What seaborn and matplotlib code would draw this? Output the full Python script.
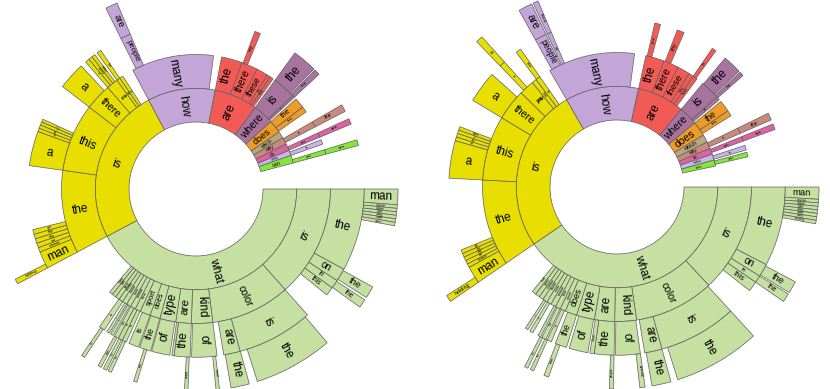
import numpy as np
import matplotlib
matplotlib.use("Agg")
import matplotlib.pyplot as plt
import seaborn as sns

# Distribution of questions by their first four words.
# Left: real images, right: abstract scenes.
# Arc spans are shares of all questions expressed in degrees (360 = all).
# "" marks words whose contribution is too small to show (left white).

# ---------------- left sunburst ----------------
L1_words = ["what", "is", "how", "are", "where", "does", "which", "why", "do", "who", "can", ""]
L1_span = [152, 90, 39, 25, 12, 7.5, 4, 4, 4, 3, 4.5, 15]

L2_words = ["is", "color", "kind", "are", "type", "does", "sport",
            "time", "animal", "room", "brand", "number", "game", "food", "shape", "",
            "the", "this", "there", "it", "that", "he", "",
            "many", "",
            "the", "there", "these", "they", "those", "",
            "is", "are", "",
            "the", "this", "",
            "is", "", "you", "", "is", "", "you", ""]
L2_span = [48.5, 34.3, 9.2, 6.7, 6.9, 4.4, 4.5,
           2.4, 2.2, 2.0, 2.0, 1.8, 1.8, 1.7, 1.6, 22,
           36, 29.5, 11.5, 5, 1.5, 1.5, 5,
           35.5, 3.5,
           9, 7, 5, 1.5, 1.5, 1,
           10, 1, 1,
           4.5, 2.5, 5,
           2.5, 2.8, 2, 1.2, 2, 2.5, 2, 15]

L3_words = ["the", "on", "in", "this", "",
            "is", "are", "", "of", "", "the", "these", "", "of", "", "the", "", "is", "",
            "is", "is", "the", "", "of", "", "is", "", "is", "",
            "man", "woman", "cat", "dog", "boy", "girl", "",
            "a", "an", "the", "in", "photo", "",
            "a", "", "a", "sunny", "raining", "", "the", "",
            "people", "", "any", "",
            "the", "", "this", "",
            "the", "", "see", "", "see", ""]
L3_span = [28.5, 4.5, 3, 3, 9.5,
           26.3, 5.7, 2.3, 8.7, 0.5, 5.5, 0.8, 0.7, 6.3, 0.3, 4, 0.4, 3.5, 1,
           1.5, 1.5, 1.5, 0.5, 1, 0.5, 1, 1, 2, 27,
           6, 1.6, 1.6, 1.6, 1.6, 1.6, 22,
           12, 1.2, 1.2, 1.1, 1, 13,
           9.5, 2, 1.5, 1.3, 1.2, 1, 1.5, 8,
           3.5, 43.5, 2, 13.5,
           8.5, 0.5, 2, 13,
           2.5, 2.8, 2, 5.7, 2, 15]

L4_words = ["man", "woman", "person", "color", "doing", "made", "name", "",
            "the", "", "the", "", "the", "", "the", "",
            "animal", "", "people", "", "man", "", "the", "", "the", "", "man", "", "the", "",
            "holding", "", "are", ""]
L4_span = [4.5, 1, 1, 1, 1, 1, 1, 18.5,
           3.5, 0.8, 2.5, 13.7, 22.8, 2.4, 5.3, 3.3,
           1, 8, 1, 13.7, 1, 6.8, 1, 0.5, 1, 0.7, 1, 4.5, 1, 27.5,
           1.5, 90, 3.5, 113]

# ---------------- right sunburst ----------------
R1_words = ["what", "is", "how", "are", "where", "does", "which", "why", "do", "who", "can", ""]
R1_span = [145.5, 94.5, 42.4, 27.2, 10.9, 8.5, 4.5, 4, 3.5, 3.5, 3.5, 12]

R2_words = ["is", "color", "kind", "are", "type", "does",
            "sport", "time", "animal", "room", "brand", "number", "game", "food", "",
            "the", "this", "there", "it", "that", "he", "",
            "many", "",
            "the", "there", "these", "they", "those", "",
            "is", "are", "",
            "the", "this", "",
            "is", "", "you", "", "is", "", "you", ""]
R2_span = [47, 34.6, 9.4, 8.7, 7.8, 5.1,
           2.4, 2.2, 2.2, 2.0, 2.0, 1.9, 1.9, 1.8, 16.5,
           37.5, 28, 13.5, 6.5, 2, 2, 5,
           37.5, 4.9,
           8.1, 6.5, 5.5, 2, 2, 3.1,
           8.4, 1.5, 1,
           5, 2.5, 6,
           2.5, 1.5, 2, 2, 2, 1, 2, 13]

R3_words = ["the", "on", "in", "this", "",
            "is", "are", "", "of", "", "the", "these", "", "of", "", "the", "",
            "is", "", "the", "", "is", "", "of", "", "is", "",
            "man", "woman", "cat", "dog", "boy", "girl", "",
            "a", "an", "the", "in", "photo", "",
            "a", "", "a", "", "the", "",
            "people", "", "are", "",
            "you", "", "any", "", "the", "",
            "the", "", "this", "",
            "the", "", "see", ""]
R3_span = [27.5, 4.5, 2.5, 3.5, 9.5,
           27, 6, 1.5, 8.5, 0.5, 6.8, 1.5, 0.7, 6.5, 1, 4, 1.5,
           1.5, 0.5, 1.5, 0.5, 1, 2, 1.2, 0.8, 1, 22.5,
           6, 1.3, 1.3, 1.3, 1.3, 1.3, 25,
           13, 1.3, 1.3, 1.2, 1.2, 10,
           11, 4, 2, 5.2, 1.8, 6,
           4, 0.5, 1.5, 36,
           2, 6, 2.5, 11, 1.5, 4,
           6.5, 0.5, 1.5, 15.5,
           2.5, 1.5, 2, 20]

R4_words = ["man", "woman", "person", "color", "doing", "made", "name", "wearing", "",
            "the", "", "the", "", "the", "", "the", "",
            "animal", "", "people", "", "man", "", "the", "", "the", "",
            "holding", "", "a", "", "are", "", "there", ""]
R4_span = [3.5, 1, 1, 1, 1, 1, 1, 1, 17.5,
           3.5, 0.5, 2.5, 13, 25, 2, 5.5, 2,
           1.5, 7.5, 1.2, 17.6, 1.4, 3.2, 1, 0.8, 1, 28.3,
           2, 78.5, 2, 13, 4, 0.5, 1.5, 113]

FIRST_COLORS = {"what": "#c5e0a1", "is": "#e8df00", "how": "#c3a6d7", "are": "#f25b55",
                "where": "#a8749f", "does": "#ee9b28", "which": "#b8a67c", "why": "#c98a7e",
                "do": "#db63a2", "who": "#c9b3e8", "can": "#84e63a"}
EDGE = "#5f5f5f"

sns.set_theme(style="white")
plt.rcParams["font.family"] = ["Liberation Sans", "DejaVu Sans"]

W_PX, H_PX = 830, 389
fig = plt.figure(figsize=(W_PX / 100, H_PX / 100), dpi=100)

R0, RW = 67.0, 33.75          # hole radius and ring width (pixels)
RBOX = 206.0                  # radius of the polar axes box (pixels)


def sunburst(cx, cy, rings):
    ax = fig.add_axes([(cx - RBOX) / W_PX, (H_PX - cy - RBOX) / H_PX,
                       2 * RBOX / W_PX, 2 * RBOX / H_PX], projection="polar")
    ax.set_theta_zero_location("E")
    ax.set_theta_direction(-1)
    ax.set_ylim(0, RBOX)
    ax.set_axis_off()
    ax.patch.set_alpha(0)
    first_words, first_span = rings[0]
    first_end = np.cumsum(first_span)
    for level, (words, spans) in enumerate(rings):
        spans = np.asarray(spans, float)
        ends = np.cumsum(spans)
        starts = ends - spans
        bottom = R0 + level * RW
        rmid = bottom + RW / 2
        for word, s, e in zip(words, starts, ends):
            if not word:
                continue
            mid = (s + e) / 2
            k = min(np.searchsorted(first_end, mid, side="right"), len(first_words) - 1)
            color = FIRST_COLORS.get(first_words[k], "#cccccc")
            ax.bar(np.deg2rad(mid), RW, width=np.deg2rad(e - s), bottom=bottom,
                   color=color, edgecolor=EDGE, linewidth=0.5, align="center")
            arc = np.deg2rad(e - s) * rmid
            fs = float(np.clip(arc * 0.6, 1.2, 8.5))
            fs = min(fs, RW * 0.95 / (0.62 * len(word) * 100 / 72))
            rot = ((-mid + 90) % 180) - 90
            ax.text(np.deg2rad(mid), rmid, word, rotation=rot, rotation_mode="anchor",
                    ha="center", va="center", fontsize=fs, color="black")
    return ax


sunburst(196, 189, [(L1_words, L1_span), (L2_words, L2_span),
                    (L3_words, L3_span), (L4_words, L4_span)])
sunburst(617, 187, [(R1_words, R1_span), (R2_words, R2_span),
                    (R3_words, R3_span), (R4_words, R4_span)])

fig.savefig("out.png", dpi=100)
